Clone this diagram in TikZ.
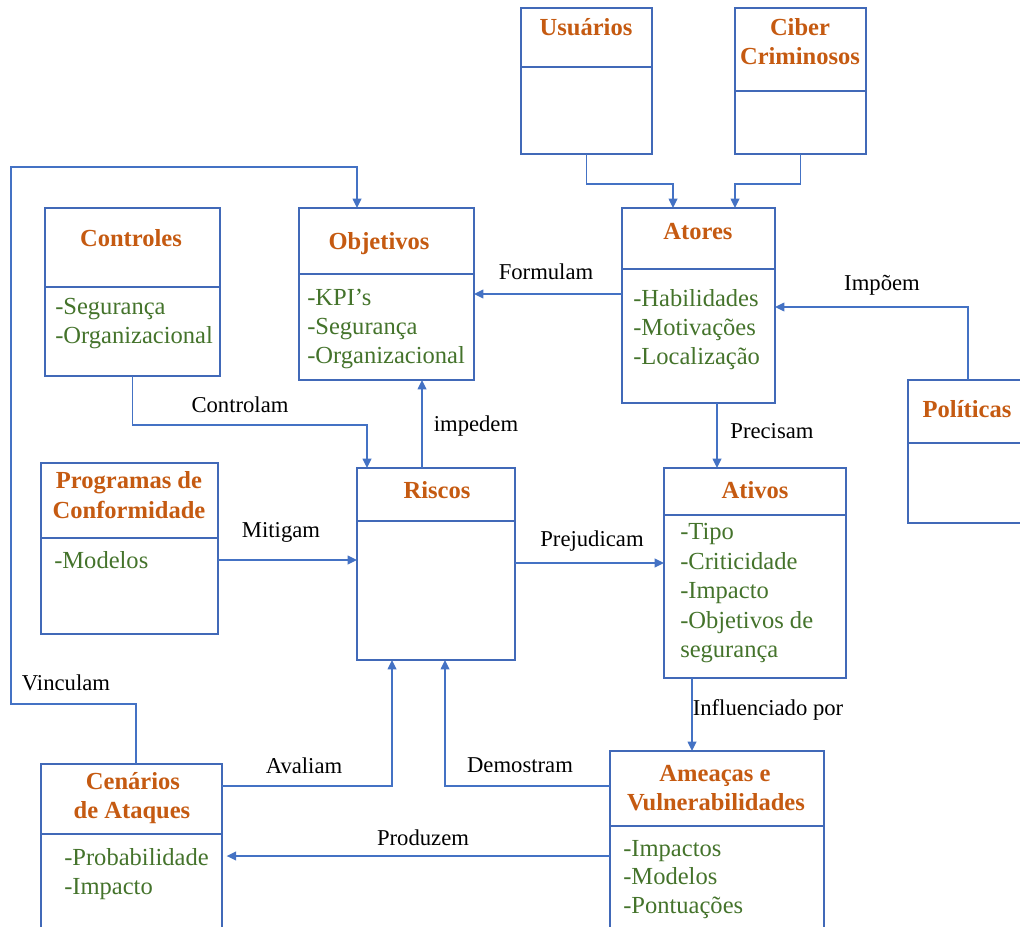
\documentclass[tikz,border=0pt]{standalone}
\usepackage{fontspec}
\setmainfont{Liberation Serif}
\usetikzlibrary{arrows.meta,calc}

\definecolor{boxblue}{HTML}{4169B8}
\definecolor{linkblue}{HTML}{4472C4}
\definecolor{titleorange}{HTML}{C55A11}
\definecolor{itemgreen}{HTML}{44732B}

\tikzset{
  classbox/.style={draw=boxblue, line width=1.4pt, inner sep=0pt, outer sep=0pt},
  divider/.style={draw=boxblue, line width=1.2pt},
  link/.style={draw=linkblue, line width=1.1pt, -{Triangle[length=7pt,width=6.5pt]}},
  title/.style={font=\bfseries\fontsize{18.4}{22}\selectfont, text=titleorange, anchor=base, inner sep=0pt},
  item/.style={font=\fontsize{18.4}{22}\selectfont, text=itemgreen, anchor=base west, inner sep=0pt},
  lbl/.style={font=\fontsize{17}{20}\selectfont, text=black, anchor=base, inner sep=0pt}
}

% class box: name, left, top, right, bottom, divider height (pixel units)
\newcommand\classbox[6]{%
  \node[classbox, minimum width={(#4-#2)*0.75pt}, minimum height={(#5-#3)*0.75pt}]
    (#1) at ({(#2+#4)/2},{(#3+#5)/2}) {};
  \draw[divider] (#1.west |- 0,#6) -- (#1.east |- 0,#6);
}

\begin{document}
\begin{tikzpicture}[x=0.75pt, y=-0.75pt]
\clip (0,0) rectangle (1020,927);

% ---- boxes ----
\classbox{usr}{521}{8}{652}{154}{67}
\classbox{cyb}{735}{8}{866}{154}{91}
\classbox{act}{622}{208}{775}{403}{269}
\classbox{ctl}{45}{208}{220}{376}{287}
\classbox{obj}{299}{208}{474}{380}{274}
\classbox{pol}{908}{380}{1035}{523}{443}
\classbox{rsk}{357}{468}{515}{660}{521}
\classbox{atv}{664}{468}{846}{678}{515}
\classbox{prg}{41}{463}{218}{634}{538}
\classbox{cen}{41}{764}{222}{960}{834}
\classbox{thr}{610}{751}{824}{960}{826}

% ---- titles ----
\node[title] (usr-t) at (586,36) {Usuários};
\node[title] (cyb-t1) at (800,36) {Ciber};
\node[title] (cyb-t2) at (800,65) {Criminosos};
\node[title] (act-t) at (698,240) {Atores};
\node[title] (ctl-t) at (131,247) {Controles};
\node[title] (obj-t) at (379,249) {Objetivos};
\node[title] (pol-t) at (967,417) {Políticas};
\node[title] (rsk-t) at (437,498) {Riscos};
\node[title] (atv-t) at (755,498) {Ativos};
\node[title] (prg-t1) at (129,488) {Programas de};
\node[title] (prg-t2) at (129,518) {Conformidade};
\node[title] (cen-t1) at (133,789) {Cenários};
\node[title] (cen-t2) at (132,818) {de Ataques};
\node[title] (thr-t1) at (715,781) {Ameaças e};
\node[title] (thr-t2) at (716,810) {Vulnerabilidades};

% ---- attributes ----
\node[item] (ctl-a1) at (55,314) {-Segurança};
\node[item] (ctl-a2) at (55,343) {-Organizacional};
\node[item] (obj-a1) at (307,305) {-KPI’s};
\node[item] (obj-a2) at (307,334) {-Segurança};
\node[item] (obj-a3) at (307,363) {-Organizacional};
\node[item] (act-a1) at (633,306) {-Habilidades};
\node[item] (act-a2) at (633,335) {-Motivações};
\node[item] (act-a3) at (633,364) {-Localização};
\node[item] (atv-a1) at (680,539) {-Tipo};
\node[item] (atv-a2) at (680,569) {-Criticidade};
\node[item] (atv-a3) at (680,598) {-Impacto};
\node[item] (atv-a4) at (680,628) {-Objetivos de};
\node[item] (atv-a5) at (680,657) {segurança};
\node[item] (prg-a1) at (54,568) {-Modelos};
\node[item] (cen-a1) at (64,865) {-Probabilidade};
\node[item] (cen-a2) at (64,894) {-Impacto};
\node[item] (thr-a1) at (623,856) {-Impactos};
\node[item] (thr-a2) at (623,884) {-Modelos};
\node[item] (thr-a3) at (623,913) {-Pontuações};

% ---- connectors ----
\draw[link] (usr.south) -- ++(0,30) -| ($(act.north west)+(51,0)$);
\draw[link] (cyb.south) -- ++(0,30) -| ($(act.north west)+(113,0)$);
\draw[link] ($(act.north west)+(0,86)$) coordinate (f1) -- (f1 -| obj.east);
\draw[link] ($(pol.north west)+(60,0)$) |- ($(act.north east)+(0,99)$);
\draw[link] ($(act.south west)+(95,0)$) coordinate (p1) -- (p1 |- atv.north);
\draw[link] (ctl.south) -- ++(0,49) -| ($(rsk.north west)+(10,0)$);
\draw[link] ($(rsk.north west)+(65,0)$) coordinate (i1) -- (i1 |- obj.south);
\draw[link] ($(prg.north east)+(0,97)$) coordinate (m1) -- (m1 -| rsk.west);
\draw[link] ($(rsk.north east)+(0,95)$) coordinate (r1) -- (r1 -| atv.west);
\draw[link] ($(atv.south west)+(28,0)$) coordinate (v1) -- (v1 |- thr.north);
\draw[link] ($(cen.north west)+(95,0)$) |- (11,704) coordinate (k1)
            -- (11,167) coordinate (k2) -| ($(obj.north west)+(58,0)$);
\draw[link] ($(cen.north east)+(0,22)$) -| ($(rsk.south west)+(35,0)$);
\draw[link] ($(thr.north west)+(0,35)$) -| ($(rsk.south west)+(88,0)$);
\draw[link, shorten >=3.5pt] ($(thr.north west)+(0,105)$) coordinate (z1) -- (z1 -| cen.east);

% ---- connector labels ----
\node[lbl] (l-form) at (546,279) {Formulam};
\node[lbl] (l-impo) at (882,291) {Impõem};
\node[lbl] (l-ctrl) at (240,412) {Controlam};
\node[lbl] (l-imped) at (476,431) {impedem};
\node[lbl] (l-prec) at (772,438) {Precisam};
\node[lbl] (l-miti) at (281,537) {Mitigam};
\node[lbl] (l-prej) at (592,546) {Prejudicam};
\node[lbl] (l-vinc) at (66,690) {Vinculam};
\node[lbl] (l-infl) at (768,715) {Influenciado por};
\node[lbl] (l-aval) at (304,773) {Avaliam};
\node[lbl] (l-demo) at (520,772) {Demostram};
\node[lbl] (l-prod) at (423,845) {Produzem};
\end{tikzpicture}
\end{document}
